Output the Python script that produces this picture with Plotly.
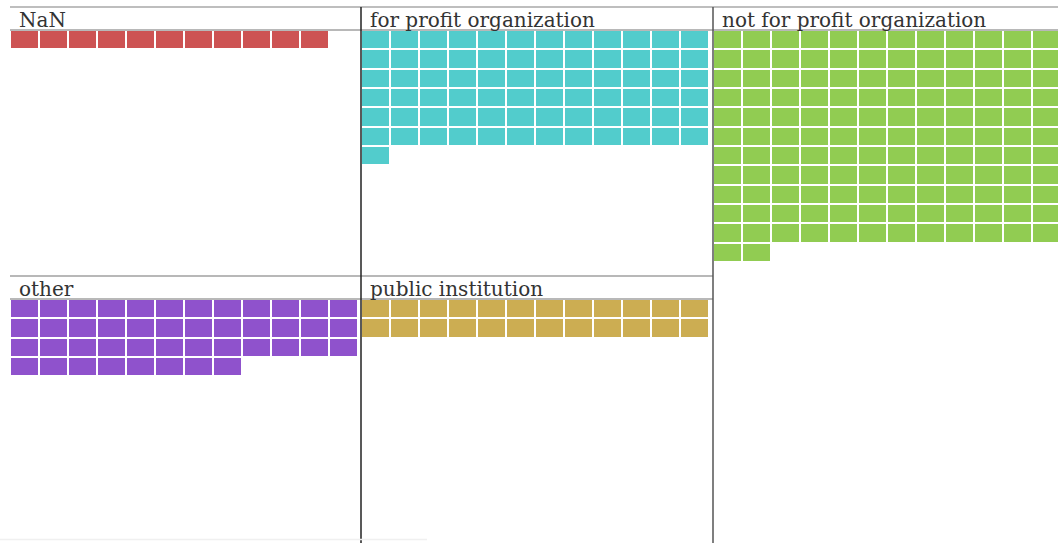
import plotly.graph_objects as go

# ---- data ----
categories = ["NaN", "for profit organization", "not for profit organization",
              "other", "public institution"]
counts = [11, 73, 134, 44, 24]
colors = ["#CD5353", "#52CCCC", "#91CC52", "#8F52CC", "#CCAD52"]
n_cols = 12

W, H = 1058, 543
col_left = [10, 361, 713]
col_right = [361, 713, 1058]
row_top = [30, 299]      # strip bottom (panel top) in px
row_bot = [276, 543]
strip_top = [7, 276]
cell_w, cell_h = 29.0, 19.33

def px(x):
    return x / W

def py(y):
    return 1 - y / H

fig = go.Figure()
for i, (cat, n, c) in enumerate(zip(categories, counts, colors)):
    r, k = divmod(i, 3)
    nrows = (n + n_cols - 1) // n_cols
    z = [[1 if rr * n_cols + cc < n else None for cc in range(n_cols)] for rr in range(nrows)]
    xa = "x" if i == 0 else f"x{i+1}"
    ya = "y" if i == 0 else f"y{i+1}"
    fig.add_trace(go.Heatmap(
        z=z, x=[cc + 0.5 for cc in range(n_cols)], y=[rr + 0.5 for rr in range(nrows)],
        colorscale=[[0, c], [1, c]], showscale=False, xgap=2, ygap=2,
        xaxis=xa, yaxis=ya, hoverinfo="skip"))
    xd = [px(col_left[k]), px(col_right[k])]
    yd = [py(row_bot[r]), py(row_top[r])]
    xr = [0, (col_right[k] - col_left[k]) / cell_w]
    yr = [(row_bot[r] - row_top[r]) / cell_h, 0]
    xkey = "xaxis" if i == 0 else f"xaxis{i+1}"
    ykey = "yaxis" if i == 0 else f"yaxis{i+1}"
    fig.update_layout(**{
        xkey: dict(domain=xd, range=xr, visible=False, fixedrange=True, anchor=ya),
        ykey: dict(domain=yd, range=yr, visible=False, fixedrange=True, anchor=xa),
    })
    fig.add_annotation(text=cat, xref="paper", yref="paper",
                       x=px(col_left[k] + 7), y=py((strip_top[r] + row_top[r]) / 2 + 1.5),
                       xanchor="left", yanchor="middle", showarrow=False,
                       font=dict(family="DejaVu Serif", size=20, color="#333333"))

shapes = []
def hline(y, x0, x1, color, w=1.5):
    shapes.append(dict(type="line", xref="paper", yref="paper", x0=px(x0), x1=px(x1),
                       y0=py(y), y1=py(y), line=dict(color=color, width=w)))
def vline(x, y0, y1, color, w=1.5):
    shapes.append(dict(type="line", xref="paper", yref="paper", x0=px(x), x1=px(x),
                       y0=py(y0), y1=py(y1), line=dict(color=color, width=w)))

hline(7, 10, 1058, "#a8a8a8")
hline(30, 10, 1058, "#a0a0a0")
hline(276, 10, 713, "#a0a0a0")
hline(299, 10, 713, "#a0a0a0")
vline(361, 7, 543, "#222222")
vline(713, 7, 543, "#555555")
hline(539.5, 0, 427, "#f0f0f0", 1.5)

fig.update_layout(width=W, height=H, margin=dict(l=0, r=0, t=0, b=0),
                  paper_bgcolor="white", plot_bgcolor="white", shapes=shapes,
                  showlegend=False)
fig.write_html("out.html", config={"displayModeBar": False})
